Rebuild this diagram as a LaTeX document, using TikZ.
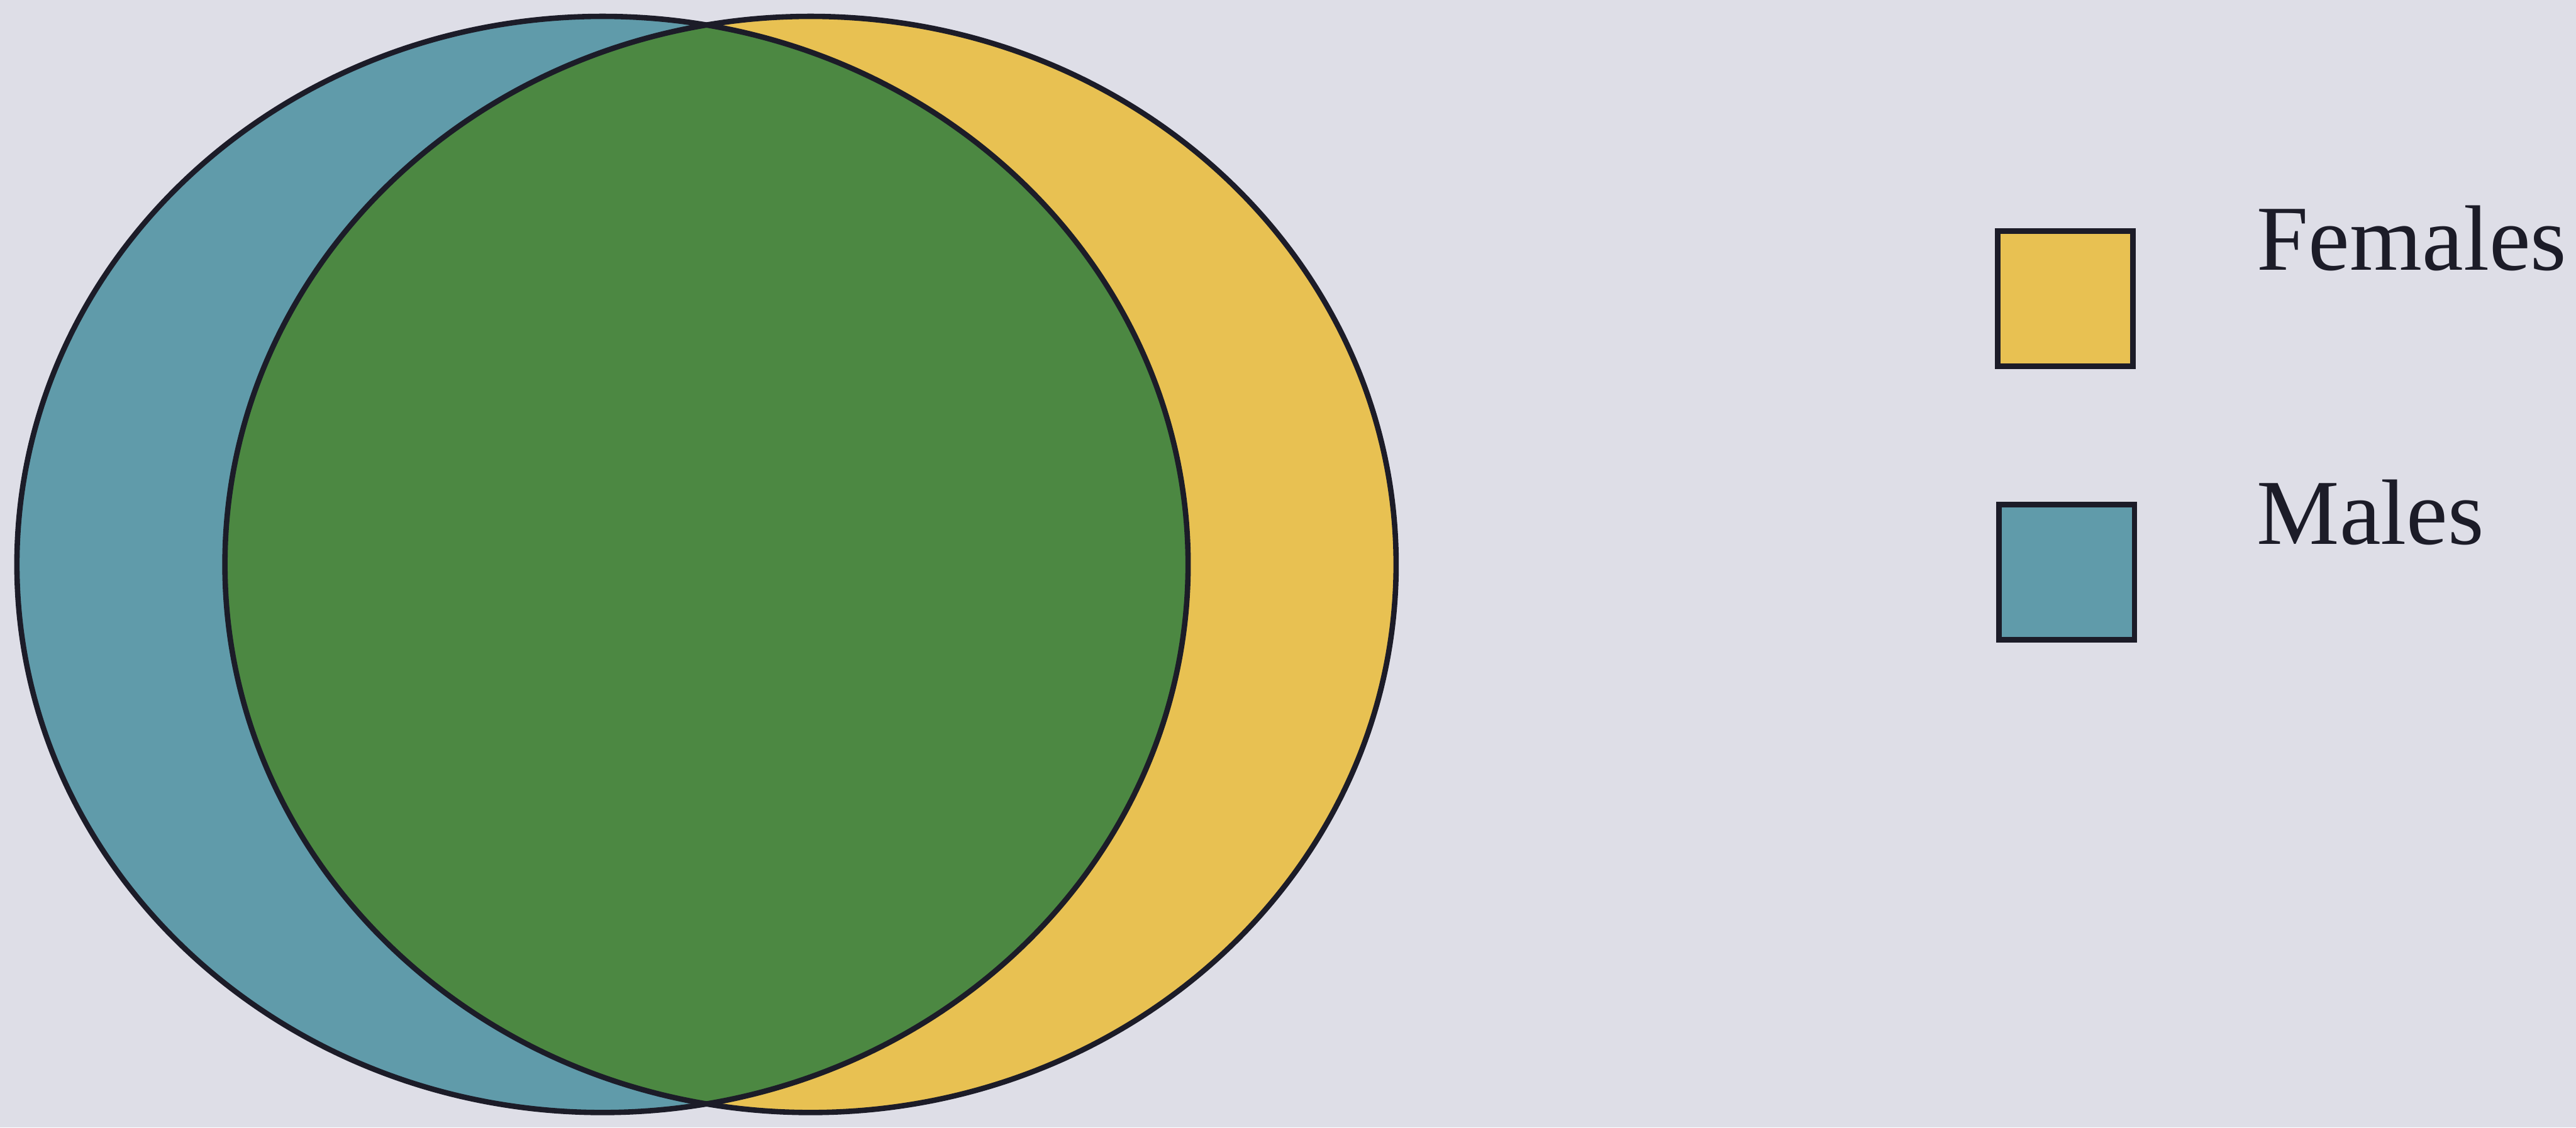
\documentclass[tikz,border=0pt]{standalone}
\usepackage{fontspec}
\setmainfont{Liberation Serif}
\definecolor{paper}{RGB}{222,222,231}
\definecolor{maleblue}{RGB}{96,155,170}
\definecolor{femyellow}{RGB}{232,193,82}
\definecolor{bothgreen}{RGB}{76,136,66}
\definecolor{ink}{RGB}{28,28,40}

\begin{document}
\begin{tikzpicture}[
  outline/.style={draw=ink,line width=1.5pt},
  keybox/.style={outline,minimum width=1.32cm,minimum height=1.32cm,inner sep=0pt},
  keytext/.style={text=ink,font=\fontsize{25.8}{30}\selectfont,anchor=base west,inner sep=0pt}]
  \fill[paper] (0,0) rectangle (25.14,11.005);
  \useasboundingbox (0,0) rectangle (25.14,11.005);
  % males and females
  \fill[maleblue] (5.88,5.495) ellipse (5.715 and 5.35);
  \fill[femyellow] (7.91,5.495) ellipse (5.715 and 5.35);
  \begin{scope}
    \clip (5.88,5.495) ellipse (5.715 and 5.35);
    \fill[bothgreen] (7.91,5.495) ellipse (5.715 and 5.35);
  \end{scope}
  \draw[outline] (5.88,5.495) ellipse (5.715 and 5.35);
  \draw[outline] (7.91,5.495) ellipse (5.715 and 5.35);
  % legend
  \node[keybox,fill=femyellow] (femkey) at (20.155,8.09) {};
  \node[keybox,fill=maleblue] (malekey) at (20.17,5.42) {};
  \node[keytext] (femtext) at (22.02,8.37) {Females};
  \node[keytext] (maletext) at (22.02,5.69) {Males};
\end{tikzpicture}
\end{document}
